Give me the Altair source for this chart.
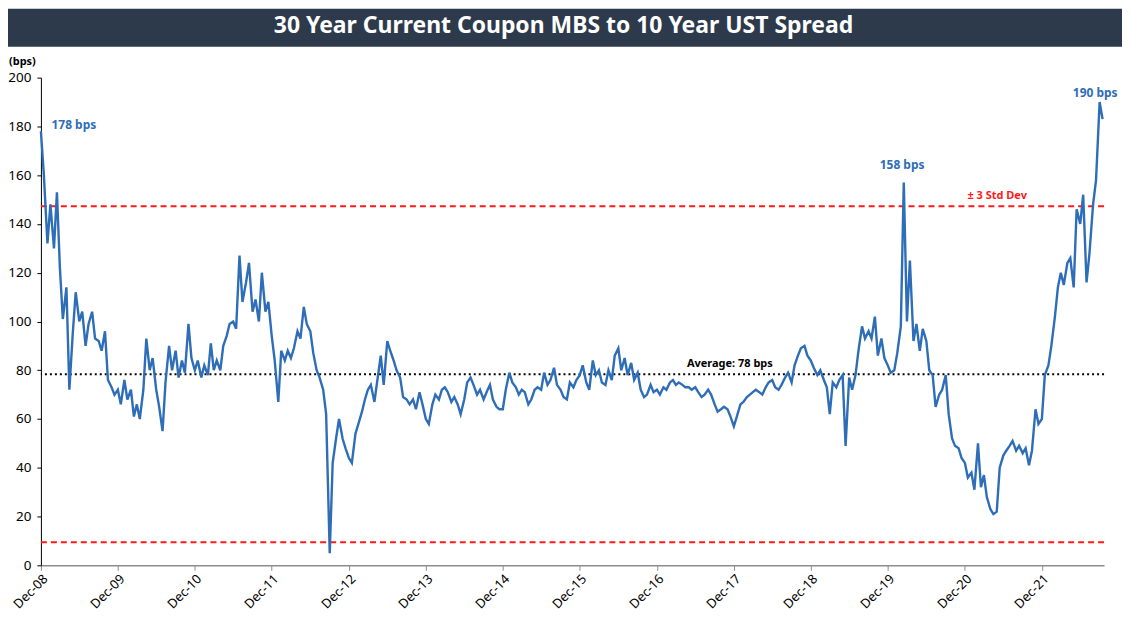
import altair as alt
import pandas as pd

# Semi-monthly readings (1st and 15th of each month), each list runs Dec -> Nov
y2008 = [178, 160, 132, 148, 130, 153, 122, 101, 114, 72, 95, 112, 100, 104, 90, 99, 104, 93, 92, 88, 96, 76, 73, 70]
y2009 = [72, 66, 76, 68, 72, 61, 66, 60, 72, 93, 80, 85, 72, 65, 55, 75, 90, 80, 88, 77, 84, 79, 99, 85]
y2010 = [80, 84, 77, 82, 78, 91, 80, 84, 80, 90, 94, 99, 100, 97, 127, 108, 116, 124, 104, 109, 100, 120, 104, 108]
y2011 = [94, 84, 67, 88, 84, 88, 85, 89, 96, 93, 106, 99, 96, 87, 80, 77, 72, 62, 5, 42, 52, 60, 52, 48]
y2012 = [44, 42, 54, 58, 63, 68, 72, 74, 67, 76, 86, 74, 92, 88, 84, 80, 77, 69, 68, 66, 68, 64, 71, 66]
y2013 = [60, 58, 66, 70, 68, 72, 73, 71, 67, 69, 66, 62, 68, 75, 77, 74, 70, 72, 68, 71, 74, 68, 65, 64]
y2014 = [64, 72, 79, 75, 73, 70, 72, 71, 66, 68, 72, 73, 72, 79, 74, 76, 81, 74, 72, 69, 68, 75, 73, 76]
y2015 = [78, 82, 75, 72, 84, 78, 80, 75, 74, 80, 76, 86, 89, 80, 85, 78, 83, 76, 79, 72, 69, 70, 74, 71]
y2016 = [72, 70, 73, 72, 75, 76, 74, 75, 74, 73, 73, 72, 73, 71, 69, 70, 72, 70, 66, 63, 64, 65, 64, 61]
y2017 = [57, 61, 66, 67, 69, 70, 71, 72, 71, 70, 73, 75, 76, 73, 72, 74, 77, 79, 75, 82, 86, 89, 90, 86]
y2018 = [84, 81, 78, 80, 76, 73, 62, 75, 73, 76, 78, 49, 77, 72, 78, 88, 98, 93, 96, 93, 102, 86, 93, 85]
y2019 = [82, 79, 80, 87, 98, 157, 100, 125, 92, 99, 88, 97, 92, 80, 78, 65, 70, 72, 78, 62, 52, 49, 48, 44]
y2020 = [42, 36, 38, 31, 50, 32, 37, 28, 23, 21, 22, 40, 45, 47, 49, 51, 47, 49, 46, 48, 41, 47, 64, 58]
y2021 = [60, 78, 82, 90, 102, 114, 120, 115, 124, 126, 114, 146, 140, 152, 116, 128, 148, 158, 190, 183]

average = 78.4
upper_band = 147.3
lower_band = 9.5

tick_years = list(range(2008, 2022))

spread = (y2008 + y2009 + y2010 + y2011 + y2012 + y2013 + y2014 + y2015 + y2016
          + y2017 + y2018 + y2019 + y2020 + y2021)
dates = pd.date_range("2008-12-01", periods=len(spread), freq="SMS")
df = pd.DataFrame({"date": dates.strftime("%Y-%m-%dT00:00:00"), "spread": spread})

x_dom = ["2008-12-01T00:00:00", "2022-09-22T00:00:00"]
xscale = alt.Scale(domain=x_dom)
yscale = alt.Scale(domain=[0, 200], nice=False)

FONT = "Noto Sans"

line = alt.Chart(df).mark_line(color="#2E6DB8", strokeWidth=2.4).encode(
    x=alt.X("date:T", scale=xscale,
            axis=alt.Axis(values=[alt.DateTime(year=y, month=12, date=1) for y in tick_years],
                          format="%b-%y", labelAngle=-45, labelAlign="right",
                          labelBaseline="top", labelFontSize=13, labelColor="#000",
                          labelFont=FONT, labelPadding=2, tickSize=5, tickColor="#8C8C8C",
                          domainColor="#8C8C8C", domainWidth=1.5, grid=False, title=None)),
    y=alt.Y("spread:Q", scale=yscale,
            axis=alt.Axis(values=list(range(0, 201, 20)), labelFontSize=13.5, labelColor="#000",
                          labelFont=FONT, tickSize=4, tickColor="#000", domainColor="#000",
                          labelPadding=6, grid=False, title=None)),
)

bands = pd.DataFrame({"v": [upper_band, lower_band]})
band_rules = alt.Chart(bands).mark_rule(color="#FF1A1A", strokeWidth=2, strokeDash=[6, 4]).encode(
    y=alt.Y("v:Q", scale=yscale))

avg_rule = alt.Chart(pd.DataFrame({"v": [average]})).mark_rule(
    color="#000", strokeWidth=2, strokeDash=[2, 3]).encode(y=alt.Y("v:Q", scale=yscale))

blue_notes = pd.DataFrame({
    "date": ["2009-01-20T00:00:00", "2020-02-07T00:00:00", "2022-04-27T00:00:00"],
    "v": [180.4, 164, 193.5],
    "label": ["178 bps", "158 bps", "190 bps"],
    "align": ["left", "center", "left"],
})
blue_left = alt.Chart(blue_notes[blue_notes["align"] == "left"]).mark_text(
    color="#2E6DB8", fontWeight="bold", fontSize=12, font=FONT, align="left", baseline="middle"
).encode(x=alt.X("date:T", scale=xscale), y=alt.Y("v:Q", scale=yscale), text="label:N")
blue_center = alt.Chart(blue_notes[blue_notes["align"] == "center"]).mark_text(
    color="#2E6DB8", fontWeight="bold", fontSize=12, font=FONT, align="center", baseline="middle"
).encode(x=alt.X("date:T", scale=xscale), y=alt.Y("v:Q", scale=yscale), text="label:N")

std_note = alt.Chart(pd.DataFrame({"date": ["2021-05-03T00:00:00"], "v": [151.3],
                                   "label": ["\u00b1 3 Std Dev"]})).mark_text(
    color="#FF1A1A", fontWeight="bold", fontSize=11, font=FONT, align="center", baseline="middle"
).encode(x=alt.X("date:T", scale=xscale), y=alt.Y("v:Q", scale=yscale), text="label:N")

avg_note = alt.Chart(pd.DataFrame({"date": ["2017-11-12T00:00:00"], "v": [82.6],
                                   "label": ["Average: 78 bps"]})).mark_text(
    color="#000", fontWeight="bold", fontSize=11, font=FONT, align="center", baseline="middle"
).encode(x=alt.X("date:T", scale=xscale), y=alt.Y("v:Q", scale=yscale), text="label:N")

one = pd.DataFrame({"k": [0]})
title_bar = alt.Chart(one).mark_rect(color="#2D3A4B", clip=False).encode(
    x=alt.value(-33), x2=alt.value(1084), y=alt.value(-69), y2=alt.value(-31))
title_text = alt.Chart(one).mark_text(
    text="30 Year Current Coupon MBS to 10 Year UST Spread", color="#FFFFFF",
    fontSize=23, fontWeight="bold", font=FONT, align="center", baseline="middle"
).encode(x=alt.value(524), y=alt.value(-52))
bps_text = alt.Chart(one).mark_text(
    text="(bps)", color="#000", fontSize=11, fontWeight="bold", font=FONT,
    align="left", baseline="middle"
).encode(x=alt.value(-32), y=alt.value(-16))

chart = alt.layer(
    title_bar, title_text, bps_text, band_rules, avg_rule, line,
    blue_left, blue_center, std_note, avg_note
).properties(
    width=1066, height=489,
    autosize=alt.AutoSizeParams(type="none"),
    padding={"left": 33, "top": 69, "right": 18, "bottom": 50},
).configure(background="white").configure_view(strokeWidth=0, stroke="transparent")

chart.save("out.html", embed_options={"renderer": "svg", "actions": False})
